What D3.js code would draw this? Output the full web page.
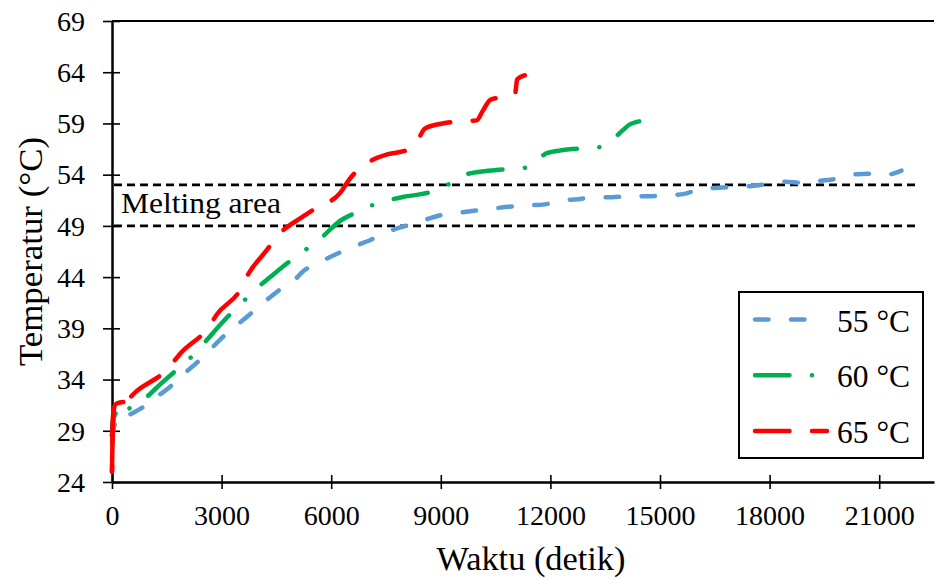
<!DOCTYPE html>
<html>
<head>
<meta charset="utf-8">
<script src="https://cdn.jsdelivr.net/npm/d3@7"></script>
<style>
  body { margin: 0; background: #fff; }
  svg text { font-family: "Liberation Serif", "Times New Roman", serif; fill: #000; }
</style>
</head>
<body>
<div id="chart"></div>
<script>
// Données (temps en secondes, température en °C)
const time55 = [0, 40, 80, 450, 850, 1220, 1590, 1910, 2280, 2630, 2960, 3370, 3690, 4000, 4280, 4640, 4960, 5240, 5600, 6700, 7060, 7470, 7840, 8240, 8660, 9070, 9530, 9980, 10440, 10940, 11390, 11850, 12310, 12760, 13220, 13680, 14180, 14680, 15180, 15640, 16090, 16510, 17010, 17510, 17960, 18420, 18920, 19380, 19840, 20250, 20750, 21200, 21610];
const temp55 = [28.6, 29.2, 29.6, 30.5, 31.3, 32.3, 33.3, 34.4, 35.5, 36.7, 37.9, 39.2, 40.1, 41.1, 41.9, 42.9, 43.6, 44.6, 45.3, 47.1, 47.6, 48.3, 48.8, 49.2, 49.7, 50.1, 50.3, 50.5, 50.7, 50.9, 51.0, 51.1, 51.5, 51.6, 51.8, 51.8, 51.9, 51.9, 52.0, 52.1, 52.6, 52.7, 52.8, 52.9, 53.1, 53.3, 53.2, 53.4, 53.6, 54.0, 54.1, 54.0, 54.4];

const time60 = [0, 30, 100, 360, 950, 1220, 1500, 2280, 2630, 3000, 3640, 3960, 4330, 4960, 5310, 5650, 6290, 6680, 7110, 7930, 8450, 8930, 9670, 10120, 10670, 11350, 11540, 11900, 12350, 13360, 13720, 14000, 14130, 14430];
const temp60 = [28.5, 30.0, 30.7, 31.0, 32.3, 33.2, 34.1, 36.6, 38.0, 39.5, 41.8, 42.9, 44.0, 45.8, 46.7, 47.6, 49.6, 50.3, 51.0, 51.8, 52.1, 52.5, 54.0, 54.3, 54.5, 54.7, 55.1, 56.1, 56.4, 56.7, 57.5, 58.4, 58.8, 59.2];

const time65 = [0, 15, 35, 80, 150, 310, 720, 1540, 1860, 2640, 2880, 3500, 3730, 4230, 4550, 5180, 5560, 6240, 6510, 7110, 7560, 8070, 8340, 8570, 9050, 9530, 9980, 10160, 10350, 10570, 11030, 11090, 11300];
const temp65 = [25.0, 28.5, 30.7, 31.5, 31.7, 31.8, 33.0, 35.1, 36.5, 39.1, 40.4, 42.7, 44.3, 46.6, 48.1, 49.8, 50.7, 52.2, 53.6, 55.4, 56.0, 56.4, 57.2, 58.5, 59.0, 59.2, 59.3, 60.3, 61.3, 61.5, 61.8, 63.3, 63.7];

const seriesNames = ["55 °C", "60 °C", "65 °C"];
const seriesColors = ["#5B9BD5", "#00B050", "#FF0000"];
const seriesDashes = ["13.5,22.5", "34.5,22.5,0.1,22.5", "34.5,22.5"];

const xTicks = [0, 3000, 6000, 9000, 12000, 15000, 18000, 21000];
const yTicks = [24, 29, 34, 39, 44, 49, 54, 59, 64, 69];
const meltingBounds = [49, 53];
const meltingEnd = 22000;

const series = [
    time55.map((t, i) => ({ t, v: temp55[i] })),
    time60.map((t, i) => ({ t, v: temp60[i] })),
    time65.map((t, i) => ({ t, v: temp65[i] }))
];

const width = 938;
const height = 579;
const margin = { top: 21, right: 4, bottom: 97, left: 112 };

const svg = d3.select("#chart")
    .append("svg")
    .attr("width", width)
    .attr("height", height);

const x = d3.scaleLinear()
    .domain([0, 22500])
    .range([margin.left, width - margin.right]);

const y = d3.scaleLinear()
    .domain([24, 69])
    .range([height - margin.bottom, margin.top]);

// Cadre du haut
svg.append("line")
    .attr("x1", margin.left)
    .attr("x2", width - margin.right)
    .attr("y1", y(69))
    .attr("y2", y(69))
    .attr("stroke", "#000")
    .attr("stroke-width", 2);

// Axe X
const gx = svg.append("g")
    .attr("transform", `translate(0,${y(24)})`)
    .call(d3.axisBottom(x).tickValues(xTicks).tickSizeOuter(0).tickFormat(d => d));
gx.select(".domain").attr("stroke-width", 2.5);
gx.selectAll(".tick line").attr("y1", -7).attr("y2", 7).attr("stroke-width", 1.6);
gx.selectAll(".tick text")
    .attr("y", 43).attr("dy", 0)
    .style("font-size", "28px")
    .style("font-family", "'Liberation Serif', serif");

// Axe Y
const gy = svg.append("g")
    .attr("transform", `translate(${x(0)},0)`)
    .call(d3.axisLeft(y).tickValues(yTicks).tickSizeOuter(0));
gy.select(".domain").attr("stroke-width", 2.5);
gy.selectAll(".tick line").attr("x1", -9).attr("x2", 8).attr("stroke-width", 1.6);
gy.selectAll(".tick text")
    .attr("x", -27).attr("dy", "0.33em")
    .style("font-size", "28px")
    .style("font-family", "'Liberation Serif', serif");

// Zone de fusion
svg.selectAll(".melt")
    .data(meltingBounds)
    .enter().append("line")
    .attr("class", "melt")
    .attr("x1", x(0) + 2)
    .attr("x2", x(meltingEnd))
    .attr("y1", d => y(d))
    .attr("y2", d => y(d))
    .attr("stroke", "#000")
    .attr("stroke-width", 2.6)
    .attr("stroke-dasharray", "8,5");

svg.append("text")
    .attr("x", 121)
    .attr("y", 213)
    .attr("textLength", 160)
    .attr("lengthAdjust", "spacingAndGlyphs")
    .style("font-size", "29px")
    .text("Melting area");

// Courbes
const line = d3.line()
    .x(d => x(d.t))
    .y(d => y(d.v))
    .curve(d3.curveMonotoneX);

// position dans le tiret où chaque courbe se termine
const endInDash = [11, 26, 22];
// nombre de points du début tracés en continu (montée rapide au départ)
const solidStart = [3, 3, 6];

series.forEach((data, i) => {
    const color = seriesColors[i];

    svg.append("path")
        .attr("class", "serie")
        .attr("d", line(data))
        .attr("fill", "none")
        .attr("stroke", color)
        .attr("stroke-width", 4.5)
        .attr("stroke-linecap", "round")
        .attr("stroke-linejoin", "round")
        .attr("stroke-dasharray", seriesDashes[i])
        .attr("stroke-dashoffset", function() {
            // caler le motif pour que la fin de la courbe tombe dans un tiret
            const period = d3.sum(seriesDashes[i].split(",").map(Number));
            const len = this.getTotalLength();
            return (((endInDash[i] - len) % period) + period) % period;
        });

    svg.append("path")
        .attr("class", "serie-start")
        .attr("d", line(data.slice(0, solidStart[i])))
        .attr("fill", "none")
        .attr("stroke", color)
        .attr("stroke-width", 4.5)
        .attr("stroke-linecap", "round")
        .attr("stroke-linejoin", "round");
});

// Légende
const legend = svg.append("g");
legend.append("rect")
    .attr("x", 739)
    .attr("y", 292)
    .attr("width", 184)
    .attr("height", 166)
    .attr("fill", "#fff")
    .attr("stroke", "#000")
    .attr("stroke-width", 2);

const rows = legend.selectAll(".legend")
    .data(seriesNames)
    .enter().append("g")
    .attr("class", "legend")
    .attr("transform", (d, i) => `translate(0,${319.5 + i * 55.7})`);

rows.append("line")
    .attr("x1", 755)
    .attr("x2", 827)
    .attr("stroke", (d, i) => seriesColors[i])
    .attr("stroke-width", 4.5)
    .attr("stroke-linecap", "round")
    .attr("stroke-dasharray", (d, i) => seriesDashes[i]);

rows.append("text")
    .attr("x", 837)
    .attr("y", 12)
    .attr("textLength", 73)
    .attr("lengthAdjust", "spacingAndGlyphs")
    .style("font-size", "32px")
    .text(d => d);

// Titres des axes
svg.append("text")
    .attr("x", 531)
    .attr("y", 570)
    .attr("text-anchor", "middle")
    .attr("textLength", 189)
    .attr("lengthAdjust", "spacingAndGlyphs")
    .style("font-size", "33px")
    .text("Waktu (detik)");

svg.append("text")
    .attr("transform", `translate(42,${(y(24) + y(69)) / 2}) rotate(-90)`)
    .attr("text-anchor", "middle")
    .attr("textLength", 229)
    .attr("lengthAdjust", "spacingAndGlyphs")
    .style("font-size", "34px")
    .text("Temperatur (°C)");
</script>
</body>
</html>
